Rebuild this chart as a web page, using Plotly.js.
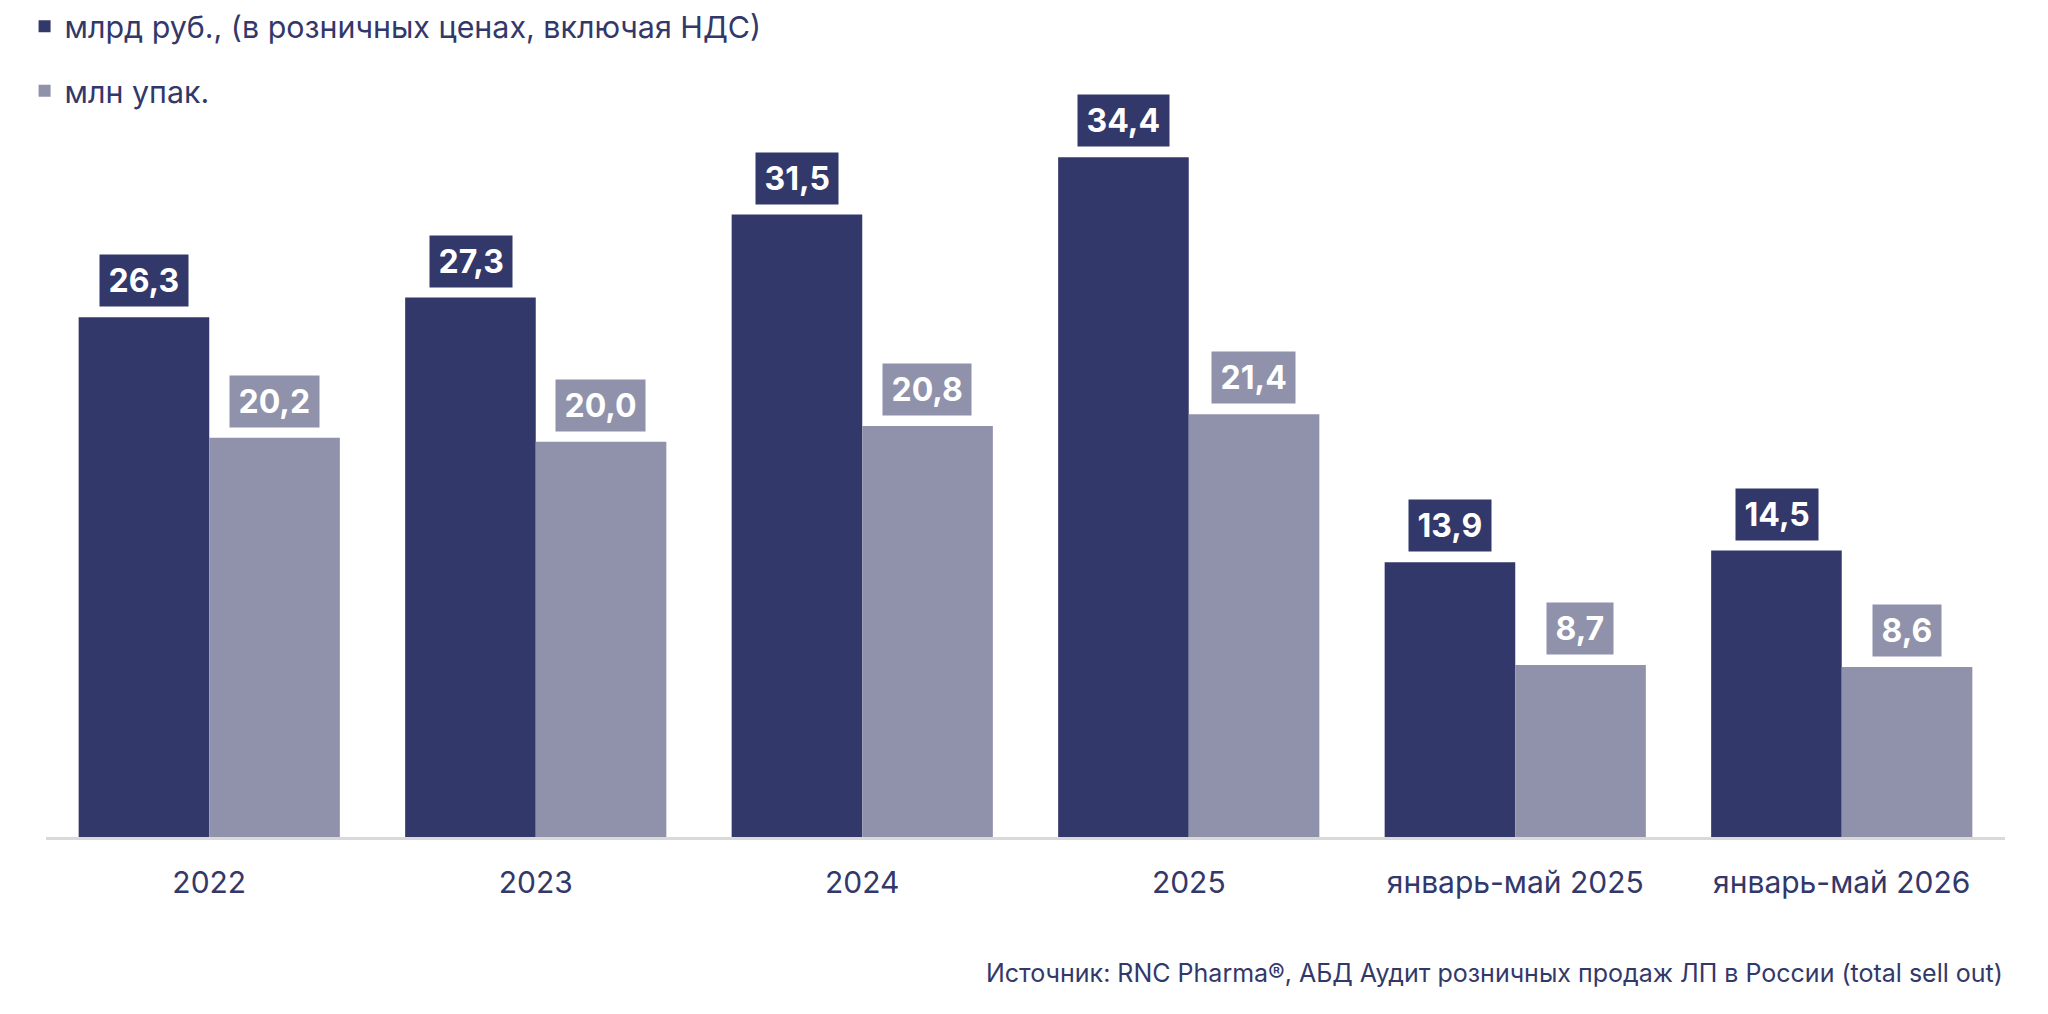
<!DOCTYPE html>
<html>
<head>
<meta charset="utf-8">
<script src="https://cdn.plot.ly/plotly-3.0.1.min.js"></script>
<style>
  html, body { margin: 0; padding: 0; background: #ffffff; }
  #chart { width: 2048px; height: 1014px; }
</style>
</head>
<body>
<div id="chart"></div>
<script>
const categories = ['2022', '2023', '2024', '2025', 'январь-май 2025', 'январь-май 2026'];
const rubValues = [26.3, 27.3, 31.5, 34.4, 13.9, 14.5];
const packValues = [20.2, 20.0, 20.8, 21.4, 8.7, 8.6];
const seriesNames = ['млрд руб., (в розничных ценах, включая НДС)', 'млн упак.'];
const sourceText = 'Источник: RNC Pharma®, АБД Аудит розничных продаж ЛП в России (total sell out)';

const darkColor = '#33386a';
const lightColor = '#9092ab';
const textColor = '#33386a';
const fontFamily = 'Inter, "Noto Sans", Roboto, sans-serif';

function fmt(v) { return v.toFixed(1).replace('.', ','); }

const traces = [
  {
    type: 'bar', name: seriesNames[0], x: categories, y: rubValues,
    marker: { color: darkColor, line: { width: 0 } },
    legendgroup: 'a', hoverinfo: 'skip'
  },
  {
    type: 'bar', name: seriesNames[1], x: categories, y: packValues,
    marker: { color: lightColor, line: { width: 0 } },
    legendgroup: 'b', hoverinfo: 'skip'
  }
];

const annotations = [];
const halfBar = 65;
function addLabels(values, color, shift) {
  values.forEach((v, i) => {
    annotations.push({
      x: i, y: v, xref: 'x', yref: 'y',
      text: '\u200A' + fmt(v) + '\u200A',
      showarrow: false,
      xanchor: 'center', yanchor: 'bottom',
      xshift: shift, yshift: 10,
      bgcolor: color, borderpad: 6,
      font: { family: fontFamily, size: 32, color: '#ffffff', weight: 700 }
    });
  });
}
addLabels(rubValues, darkColor, -halfBar);
addLabels(packValues, lightColor, halfBar);

annotations.push({
  xref: 'paper', yref: 'paper', x: 1, y: -0.185,
  xanchor: 'right', yanchor: 'middle', showarrow: false,
  text: sourceText,
  font: { family: fontFamily, size: 25, color: textColor }
});

const layout = {
  width: 2048, height: 1014,
  paper_bgcolor: '#ffffff', plot_bgcolor: '#ffffff',
  margin: { l: 46, r: 43, t: 100, b: 177, autoexpand: false },
  barmode: 'group', bargap: 0.2, bargroupgap: 0,
  font: { family: fontFamily, color: textColor },
  showlegend: true,
  legend: {
    x: 0.012, y: 1.0, xref: 'container', yref: 'container',
    xanchor: 'left', yanchor: 'top',
    orientation: 'v', traceorder: 'grouped',
    tracegroupgap: 22,
    font: { family: fontFamily, size: 30.4, color: textColor },
    bgcolor: 'rgba(0,0,0,0)'
  },
  xaxis: {
    type: 'category', range: [-0.5, categories.length - 0.5], autorange: false,
    showline: true, linecolor: '#d9d9d9', linewidth: 3,
    showgrid: false, zeroline: false, ticks: '', tickangle: 0,
    ticklabelstandoff: 17,
    tickfont: { family: fontFamily, size: 30, color: textColor }
  },
  yaxis: {
    range: [0, 37.3], autorange: false, visible: false, showgrid: false, zeroline: false
  },
  annotations: annotations
};

Plotly.newPlot('chart', traces, layout, { displayModeBar: false, staticPlot: true });
</script>
</body>
</html>
